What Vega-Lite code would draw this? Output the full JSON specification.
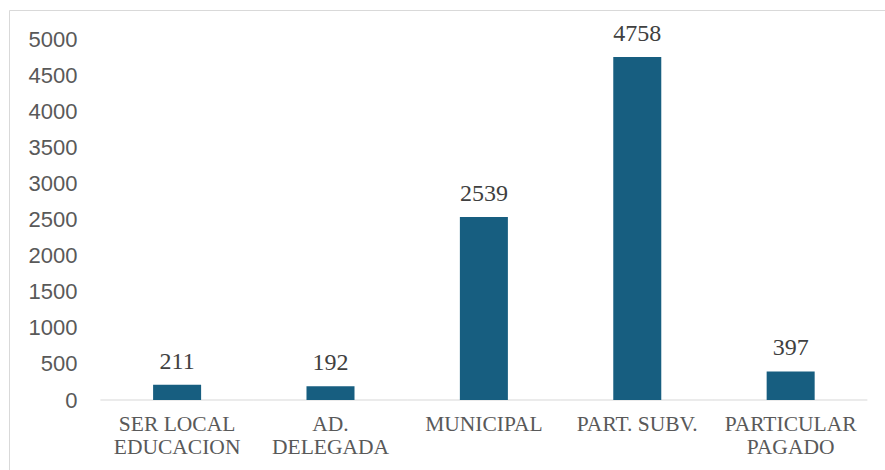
{
  "$schema": "https://vega.github.io/schema/vega-lite/v6.json",
  "autosize": {"type": "none"},
  "padding": {"left": 9, "top": 10, "right": 0, "bottom": 0},
  "width": 876,
  "height": 460,
  "background": "white",
  "config": {"view": {"stroke": null}},
  "data": {
    "values": [
      {"categoria": "SER LOCAL EDUCACION", "valor": 211},
      {"categoria": "AD. DELEGADA", "valor": 192},
      {"categoria": "MUNICIPAL", "valor": 2539},
      {"categoria": "PART. SUBV.", "valor": 4758},
      {"categoria": "PARTICULAR PAGADO", "valor": 397}
    ]
  },
  "resolve": {"axis": {"x": "independent"}},
  "layer": [
    {
      "mark": {"type": "tick", "color": "#d9d9d9", "size": 153.4, "thickness": 1.5, "orient": "horizontal"},
      "encoding": {
        "x": {
          "field": "categoria", "type": "nominal", "sort": null,
          "scale": {"paddingInner": 0.687, "paddingOuter": 0.699, "align": 0.672},
          "axis": {"orient": "top", "labels": false, "ticks": false, "domain": true, "domainColor": "#d9d9d9", "domainWidth": 1, "title": null, "grid": false}
        },
        "y": {"datum": 0, "type": "quantitative"}
      }
    },
    {
      "mark": {"type": "bar", "color": "#175e80"},
      "encoding": {
        "x": {
          "field": "categoria", "type": "nominal", "sort": null,
          "axis": {
            "orient": "bottom", "offset": -70, "title": null, "domain": false, "ticks": false, "tickSize": 0, "grid": false,
            "labelAngle": 0, "labelFont": "Liberation Serif", "labelFontSize": 21.5, "labelColor": "#595959",
            "labelPadding": 13, "labelBaseline": "top", "labelLineHeight": 23, "labelLimit": 0,
            "labelExpr": "datum.value == 'SER LOCAL EDUCACION' ? ['SER LOCAL', 'EDUCACION'] : datum.value == 'AD. DELEGADA' ? ['AD.', 'DELEGADA'] : datum.value == 'PARTICULAR PAGADO' ? ['PARTICULAR', 'PAGADO'] : datum.label"
          }
        },
        "y": {
          "field": "valor", "type": "quantitative",
          "scale": {"domain": [-971, 5410], "nice": false, "zero": false},
          "axis": {
            "orient": "left", "offset": 0, "title": null, "grid": false, "ticks": false, "tickSize": 0,
            "domain": true, "domainColor": "#d9d9d9", "domainWidth": 1, "format": "d",
            "values": [0, 500, 1000, 1500, 2000, 2500, 3000, 3500, 4000, 4500, 5000],
            "labelFont": "Liberation Sans", "labelFontSize": 22, "labelColor": "#595959",
            "labelAlign": "right", "labelBaseline": "middle", "labelPadding": -68
          }
        },
        "y2": {"datum": 0}
      }
    },
    {
      "mark": {"type": "text", "font": "Liberation Serif", "fontSize": 24, "color": "#404040", "baseline": "alphabetic", "align": "center", "dy": -16},
      "encoding": {
        "x": {"field": "categoria", "type": "nominal", "sort": null, "axis": null},
        "y": {"field": "valor", "type": "quantitative"},
        "text": {"field": "valor", "type": "quantitative", "format": "d"}
      }
    }
  ]
}
